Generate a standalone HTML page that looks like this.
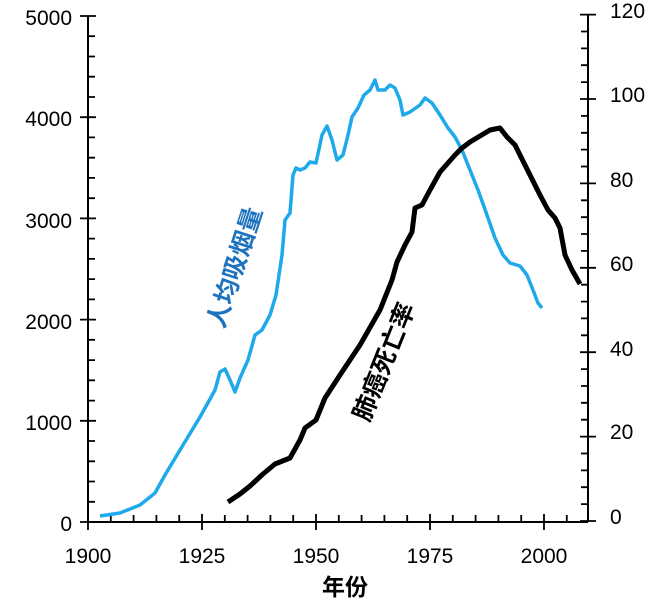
<!DOCTYPE html>
<html><head><meta charset="utf-8"><style>body{margin:0;background:#fff}svg{display:block}</style></head><body>
<svg width="663" height="604" viewBox="0 0 663 604" xmlns="http://www.w3.org/2000/svg" font-family="Liberation Sans, Noto Sans CJK SC, sans-serif">
<g stroke="#000" stroke-width="2" fill="none">
<line x1="88" y1="16" x2="88" y2="522"/>
<line x1="588" y1="14" x2="588" y2="522"/>
<line x1="88" y1="522" x2="588" y2="522"/>
</g>
<g stroke="#000" stroke-width="1.8" fill="none">
<path d="M80 522H96M80 420.8H96M80 319.6H96M80 218.4H96M80 117.2H96M80 16H96"/>
<path d="M88 501.8h7M88 481.5h7M88 461.3h7M88 441h7M88 400.6h7M88 380.3h7M88 360.1h7M88 339.8h7M88 299.4h7M88 279.1h7M88 258.9h7M88 238.6h7M88 198.2h7M88 177.9h7M88 157.7h7M88 137.4h7M88 97h7M88 76.7h7M88 56.5h7M88 36.2h7"/>
<path d="M580 521H596M580 436.6H596M580 352.2H596M580 267.8H596M580 183.4H596M580 99H596M580 14.6H596"/>
<path d="M581 504.1h7M581 487.2h7M581 470.4h7M581 453.5h7M581 419.7h7M581 402.8h7M581 386h7M581 369.1h7M581 335.3h7M581 318.4h7M581 301.6h7M581 284.7h7M581 250.9h7M581 234h7M581 217.2h7M581 200.3h7M581 166.5h7M581 149.6h7M581 132.8h7M581 115.9h7M581 82.1h7M581 65.2h7M581 48.4h7M581 31.5h7"/>
<path d="M88 514V530M202 514V530M316 514V530M430 514V530M544 514V530"/>
<path d="M110.8 515v7M133.6 515v7M156.4 515v7M179.2 515v7M224.8 515v7M247.6 515v7M270.4 515v7M293.2 515v7M338.8 515v7M361.6 515v7M384.4 515v7M407.2 515v7M452.8 515v7M475.6 515v7M498.4 515v7M521.2 515v7M566.8 515v7"/>
</g>
<g font-size="21" fill="#000" text-anchor="end">
<text x="72" y="25">5000</text><text x="72" y="126">4000</text><text x="72" y="228">3000</text><text x="72" y="329">2000</text><text x="72" y="430">1000</text><text x="72" y="531">0</text>
</g>
<g font-size="21" fill="#000" text-anchor="start">
<text x="610" y="18">120</text><text x="610" y="102">100</text><text x="610" y="187">80</text><text x="610" y="271">60</text><text x="610" y="356">40</text><text x="610" y="439">20</text><text x="610" y="524">0</text>
</g>
<g font-size="21" fill="#000" text-anchor="middle">
<text x="88" y="563">1900</text><text x="202" y="563">1925</text><text x="316" y="563">1950</text><text x="430" y="563">1975</text><text x="544" y="563">2000</text>
</g>
<text x="345" y="595" font-size="23" font-weight="bold" text-anchor="middle">年份</text>
<polyline fill="none" stroke="#1ea9ea" stroke-width="3.5" stroke-linejoin="round" points="100,516 120,513 140,505 155,493 165,475 180,450 200,417 215,390 220,372 225,369 230,380 235,392 240,378 248,360 255,335 262,330 270,315 276,295 282,255 285,220 290,213 293,175 296,168 300,170 305,168 310,162 316,163 322,135 327,126 332,140 337,160 343,155 348,135 352,117 358,108 364,95 370,90 375,80 378,90 385,90 390,85 395,88 400,100 403,115 410,112 420,105 425,98 432,103 440,115 448,128 455,137 462,150 470,170 478,190 487,215 495,238 503,255 510,263 520,266 527,275 533,290 538,303 542,308"/>
<polyline fill="none" stroke="#000" stroke-width="5" stroke-linejoin="round" points="228,502 240,494 250,486 263,474 275,464 290,458 300,440 305,428 316,420 325,398 340,375 360,345 380,310 392,280 397,262 405,245 412,232 415,208 422,205 430,190 440,172 448,163 455,155 462,148 470,142 480,136 490,130 500,128 507,137 515,145 520,155 530,175 535,185 540,195 548,210 555,218 560,228 565,255 572,270 580,284"/>
<text transform="translate(243,270) rotate(-72)" font-size="25" font-weight="bold" fill="#1e73be" text-anchor="middle">人均吸烟量</text>
<text transform="translate(392,365) rotate(-68)" font-size="25" font-weight="bold" fill="#000" text-anchor="middle">肺癌死亡率</text>
</svg>
</body></html>
